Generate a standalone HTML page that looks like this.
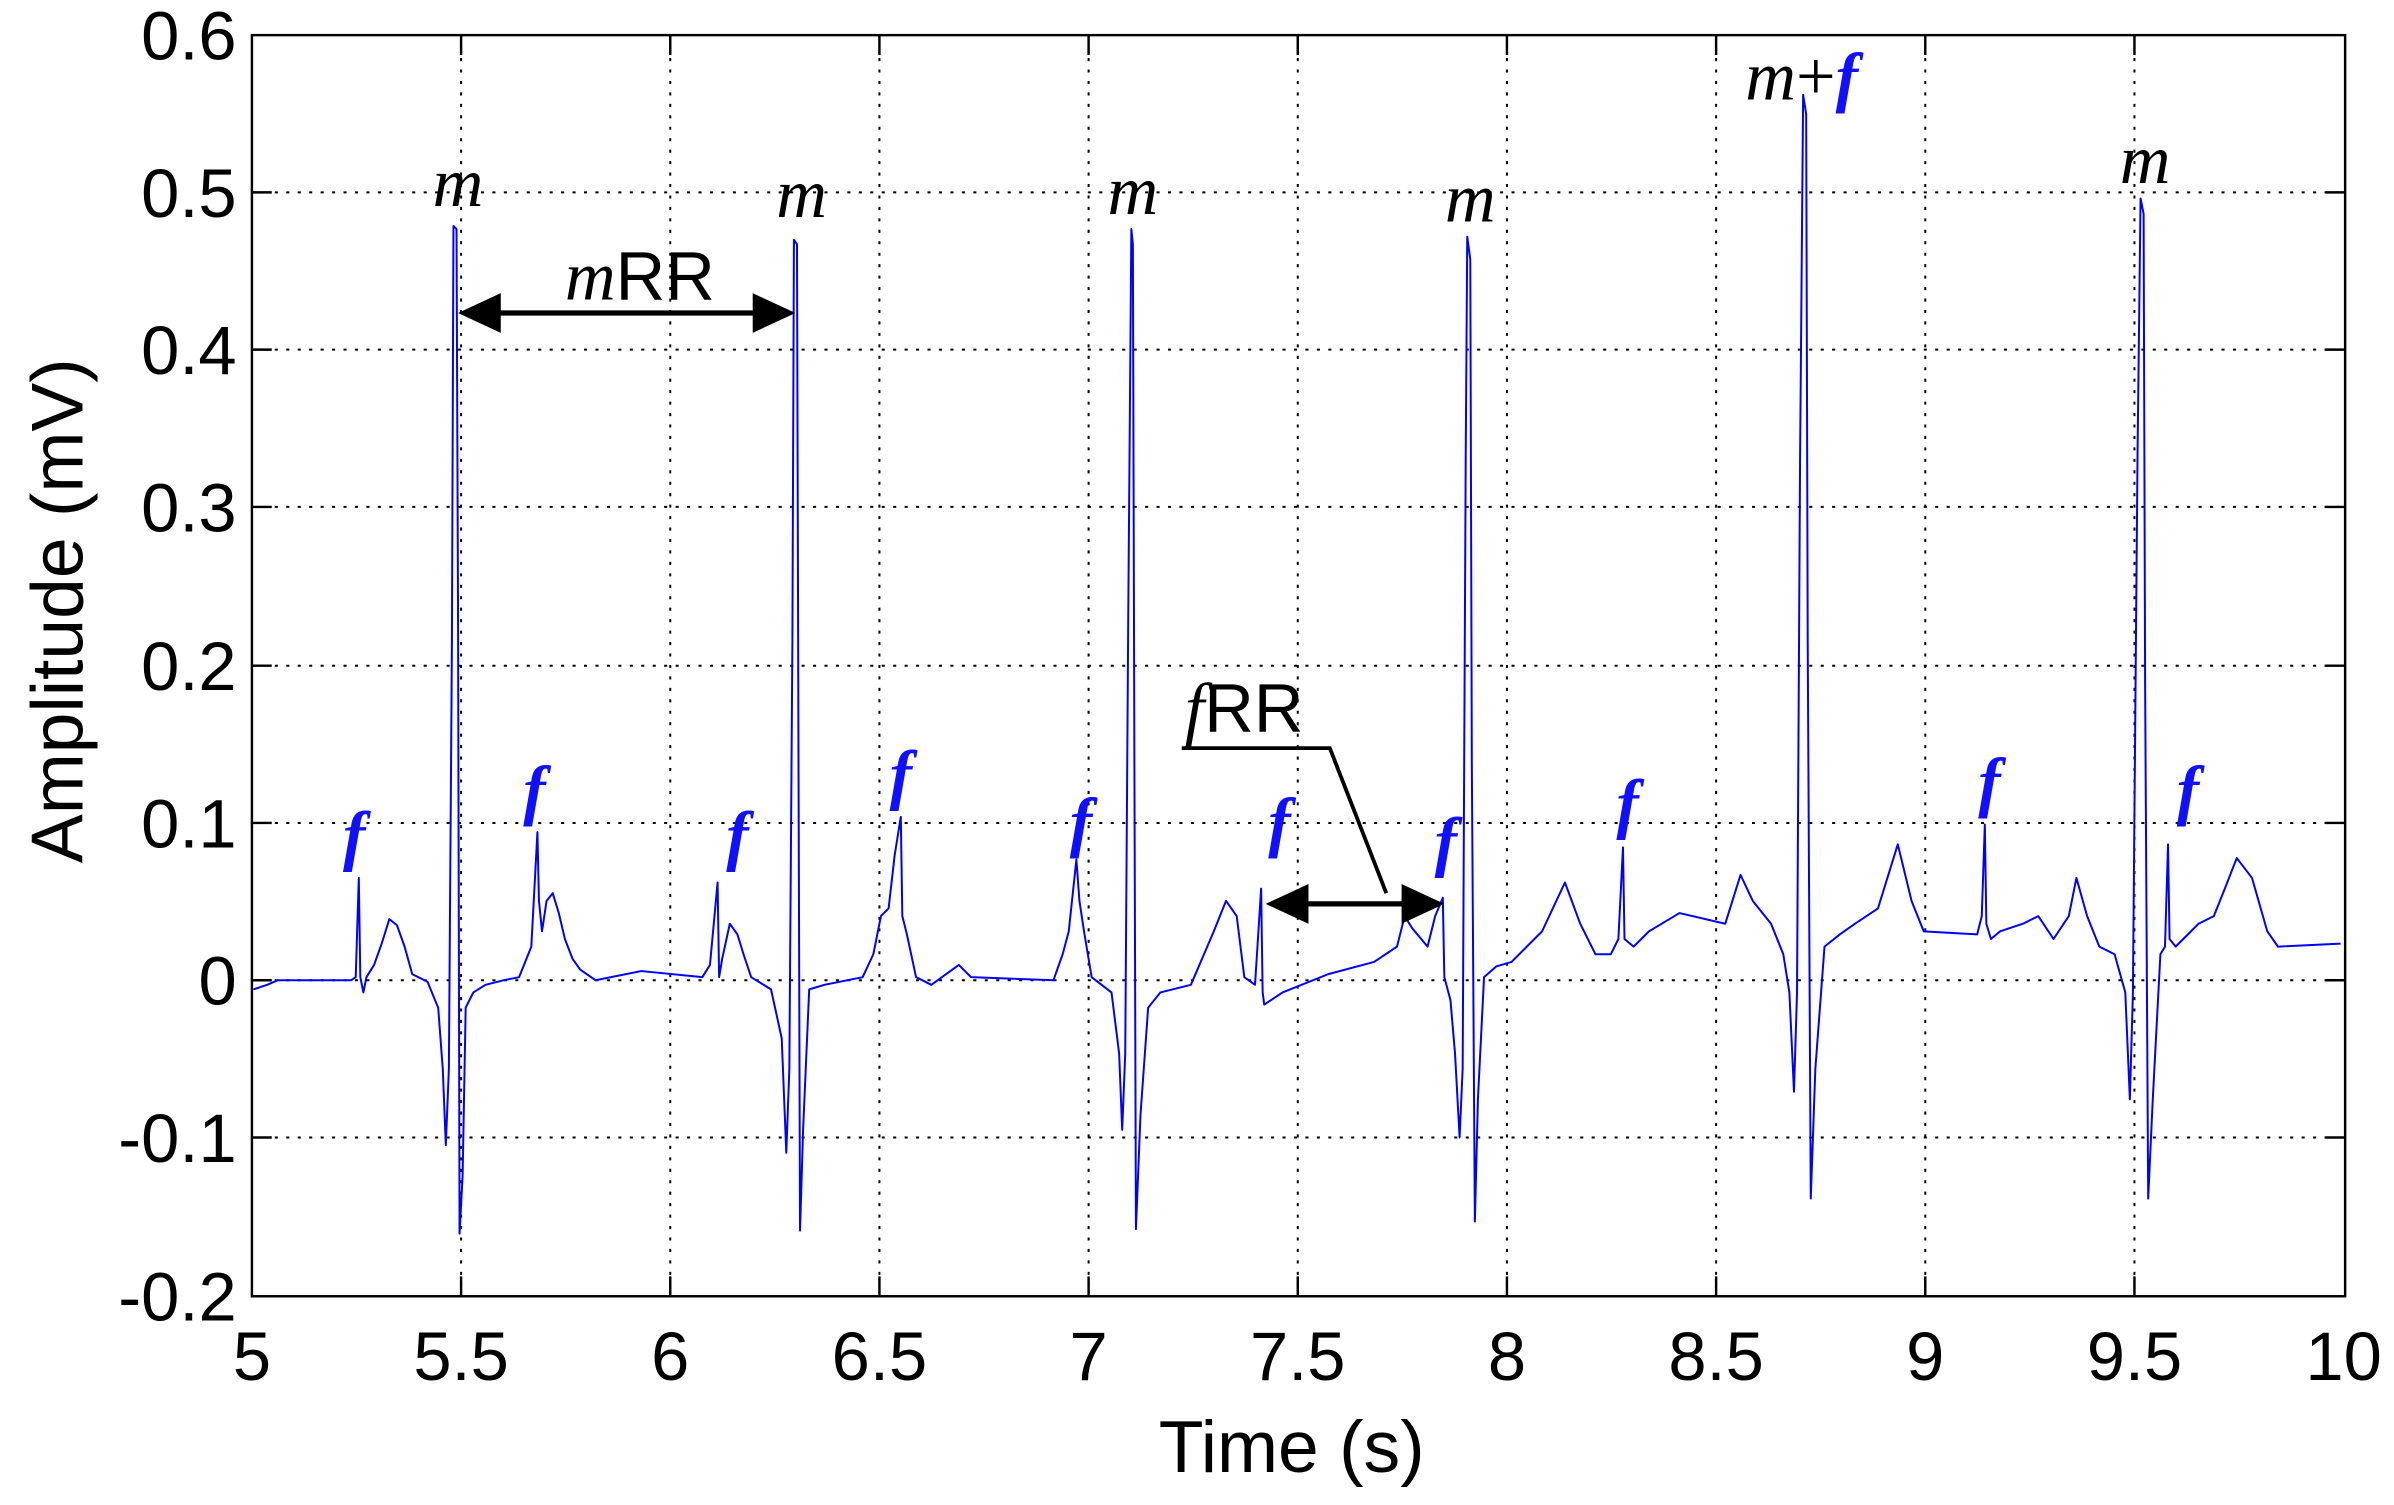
<!DOCTYPE html>
<html><head><meta charset="utf-8"><style>
html,body{margin:0;padding:0;background:#fff}
svg{display:block}
.t{font-family:"Liberation Sans",sans-serif;font-size:45px;fill:#000}
.a{font-family:"Liberation Sans",sans-serif;font-size:48px;fill:#000}
.m{font-family:"Liberation Serif",serif;font-style:italic;font-size:46px;fill:#000}
.f{font-family:"Liberation Serif",serif;font-style:italic;font-weight:bold;font-size:44px;fill:#1010ff}
</style></head><body>
<svg width="2394" height="1505" viewBox="0 0 1568 985.7" xmlns="http://www.w3.org/2000/svg">
<rect width="1568" height="985.7" fill="#fff"/>
<g stroke="#000" stroke-width="1.3" stroke-dasharray="2,5.5">
<line x1="302" y1="23" x2="302" y2="849"/><line x1="439" y1="23" x2="439" y2="849"/>
<line x1="576" y1="23" x2="576" y2="849"/><line x1="713" y1="23" x2="713" y2="849"/>
<line x1="850" y1="23" x2="850" y2="849"/><line x1="987" y1="23" x2="987" y2="849"/>
<line x1="1124" y1="23" x2="1124" y2="849"/><line x1="1261" y1="23" x2="1261" y2="849"/>
<line x1="1398" y1="23" x2="1398" y2="849"/>
<line x1="165" y1="126" x2="1536" y2="126"/><line x1="165" y1="229" x2="1536" y2="229"/>
<line x1="165" y1="332" x2="1536" y2="332"/><line x1="165" y1="436" x2="1536" y2="436"/>
<line x1="165" y1="539" x2="1536" y2="539"/><line x1="165" y1="642" x2="1536" y2="642"/>
<line x1="165" y1="745" x2="1536" y2="745"/>
</g>
<polyline fill="none" stroke="#0000ff" stroke-width="1.3" stroke-linejoin="round" points="
166,648 175,645 182,642 230,642 233,640 235,575 236,640 238,650 240,640 245,632 250,618 255,602 260,606 265,620 270,638 280,643 287,660 290,700 292,750 294,700 296,420 297,148 299,150 300,400 301,808 303,770 305,660 310,650 318,645 330,642 340,640 348,620 352,545 353,590 355,610 358,590 362,585 366,598 370,615 375,628 380,635 390,642 420,636 460,640 465,632 470,578 471,640 473,628 478,605 483,612 487,625 492,640 505,648 512,680 515,755 517,700 519,420 520,157 522,160 523,500 524,806 526,740 530,648 540,645 565,640 572,625 577,600 582,595 586,560 590,535 591,600 594,612 600,640 610,645 628,632 636,640 690,642 696,625 700,610 705,563 707,590 710,610 715,640 728,650 733,690 735,740 737,690 739,400 741,150 742,160 743,500 744,805 747,730 752,660 760,650 780,645 795,610 803,590 810,600 815,640 822,645 826,582 827,650 828,658 840,650 870,638 900,630 915,620 920,600 925,608 935,620 940,600 945,588 946,640 950,655 953,690 956,745 958,700 960,300 961,155 963,170 964,500 966,800 968,720 972,640 980,633 990,630 1010,610 1025,578 1035,605 1045,625 1055,625 1060,615 1063,555 1064,615 1070,620 1080,610 1100,598 1130,605 1140,573 1148,590 1160,605 1168,625 1172,650 1175,715 1177,650 1179,300 1181,62 1183,75 1184,420 1186,785 1189,700 1195,620 1205,612 1215,605 1230,595 1243,553 1252,590 1260,610 1295,612 1298,600 1300,540 1301,605 1304,615 1310,610 1325,605 1335,600 1345,615 1355,600 1360,575 1367,600 1375,620 1385,625 1392,650 1395,720 1397,650 1400,300 1402,130 1404,140 1405,450 1407,785 1410,720 1415,625 1418,620 1420,553 1421,615 1425,620 1435,610 1440,605 1450,600 1458,580 1465,562 1475,575 1485,610 1492,620 1533,618"/>
<rect x="165" y="23" width="1371" height="826" fill="none" stroke="#000" stroke-width="1.6"/>
<g stroke="#000" stroke-width="1.6">
<line x1="302" y1="849" x2="302" y2="836"/><line x1="439" y1="849" x2="439" y2="836"/><line x1="576" y1="849" x2="576" y2="836"/><line x1="713" y1="849" x2="713" y2="836"/><line x1="850" y1="849" x2="850" y2="836"/><line x1="987" y1="849" x2="987" y2="836"/><line x1="1124" y1="849" x2="1124" y2="836"/><line x1="1261" y1="849" x2="1261" y2="836"/><line x1="1398" y1="849" x2="1398" y2="836"/>
<line x1="302" y1="23" x2="302" y2="36"/><line x1="439" y1="23" x2="439" y2="36"/><line x1="576" y1="23" x2="576" y2="36"/><line x1="713" y1="23" x2="713" y2="36"/><line x1="850" y1="23" x2="850" y2="36"/><line x1="987" y1="23" x2="987" y2="36"/><line x1="1124" y1="23" x2="1124" y2="36"/><line x1="1261" y1="23" x2="1261" y2="36"/><line x1="1398" y1="23" x2="1398" y2="36"/>
<line x1="165" y1="126" x2="178" y2="126"/><line x1="165" y1="229" x2="178" y2="229"/><line x1="165" y1="332" x2="178" y2="332"/><line x1="165" y1="436" x2="178" y2="436"/><line x1="165" y1="539" x2="178" y2="539"/><line x1="165" y1="642" x2="178" y2="642"/><line x1="165" y1="745" x2="178" y2="745"/>
<line x1="1536" y1="126" x2="1523" y2="126"/><line x1="1536" y1="229" x2="1523" y2="229"/><line x1="1536" y1="332" x2="1523" y2="332"/><line x1="1536" y1="436" x2="1523" y2="436"/><line x1="1536" y1="539" x2="1523" y2="539"/><line x1="1536" y1="642" x2="1523" y2="642"/><line x1="1536" y1="745" x2="1523" y2="745"/>
</g>
<g class="t" text-anchor="end">
<text x="155" y="39">0.6</text><text x="155" y="142">0.5</text><text x="155" y="245">0.4</text><text x="155" y="348">0.3</text><text x="155" y="452">0.2</text><text x="155" y="555">0.1</text><text x="155" y="658">0</text><text x="155" y="761">-0.1</text><text x="155" y="865">-0.2</text>
</g>
<g class="t" text-anchor="middle">
<text x="165" y="904">5</text><text x="302" y="904">5.5</text><text x="439" y="904">6</text><text x="576" y="904">6.5</text><text x="713" y="904">7</text><text x="850" y="904">7.5</text><text x="987" y="904">8</text><text x="1124" y="904">8.5</text><text x="1261" y="904">9</text><text x="1398" y="904">9.5</text><text x="1535" y="904">10</text>
</g>
<g class="a" text-anchor="middle">
<text x="846" y="964">Time (s)</text>
<text transform="translate(54,400) rotate(-90)">Amplitude (mV)</text>
</g>
<g class="m" text-anchor="middle">
<text x="300" y="135">m</text><text x="525" y="142">m</text><text x="742" y="140">m</text><text x="963" y="145">m</text><text x="1405" y="120">m</text>
<text x="1180" y="65">m<tspan style="font-style:normal">+</tspan><tspan class="f" style="font-weight:bold;fill:#1010ff">f</tspan></text>
</g>
<g class="f" text-anchor="middle">
<text x="232" y="562">f</text><text x="350" y="532">f</text><text x="483" y="562">f</text><text x="590" y="522">f</text><text x="708" y="553">f</text><text x="838" y="553">f</text><text x="947" y="566">f</text><text x="1066" y="541">f</text><text x="1303" y="527">f</text><text x="1433" y="532">f</text>
</g>
<g stroke="#000" stroke-width="3.5">
<line x1="318" y1="205" x2="503" y2="205"/>
<line x1="848" y1="592" x2="927" y2="592"/>
</g>
<polygon points="300,205 328,192 328,218" fill="#000"/>
<polygon points="521,205 493,192 493,218" fill="#000"/>
<polygon points="829,592 857,579 857,605" fill="#000"/>
<polygon points="946,592 918,579 918,605" fill="#000"/>
<polyline points="774,490 871,490 908,585" fill="none" stroke="#000" stroke-width="2.5"/>
<text x="370" y="196" class="t"><tspan class="m">m</tspan>RR</text>
<text x="776" y="479" class="t"><tspan class="m">f</tspan>RR</text>
</svg>
</body></html>
